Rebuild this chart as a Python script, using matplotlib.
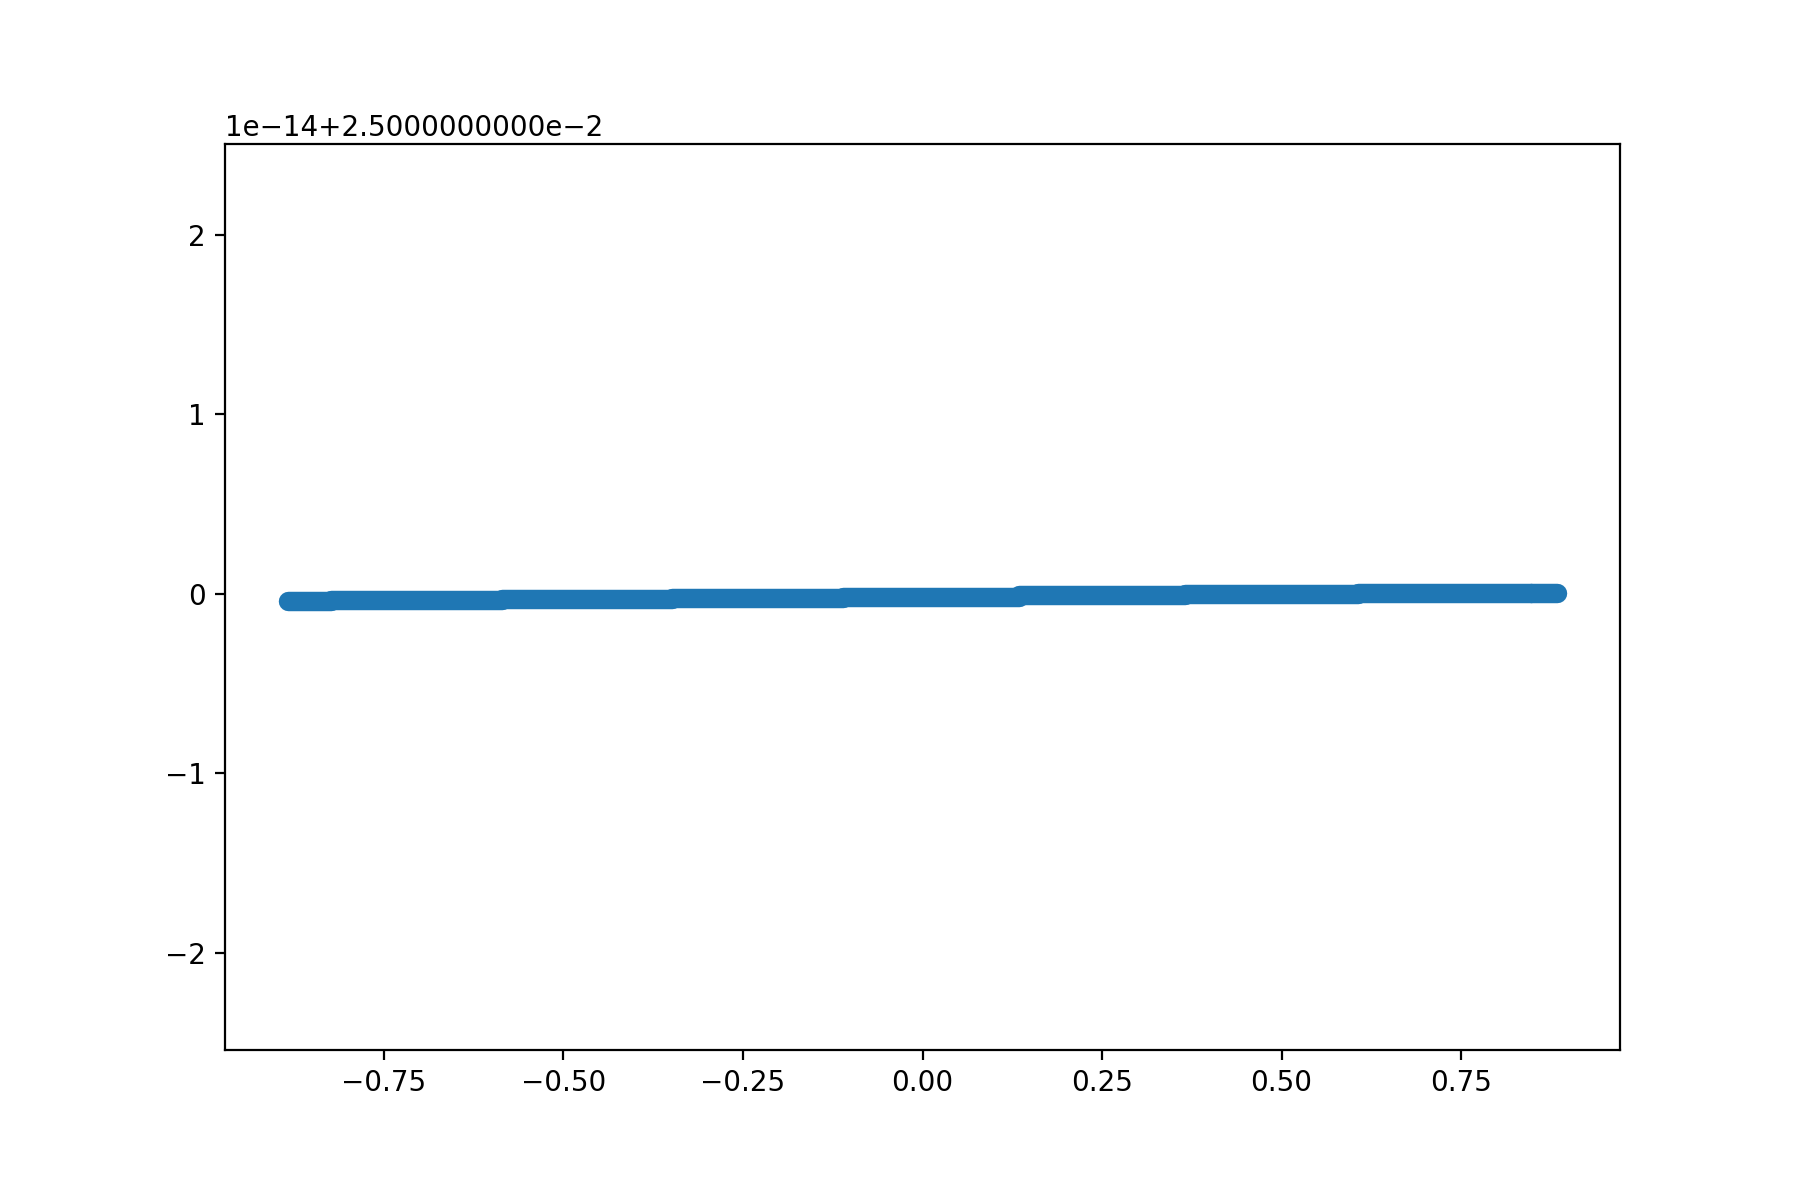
import numpy as np
import matplotlib
matplotlib.use('Agg')
import matplotlib.pyplot as plt

# Data: the points sit on a flat run of steps just around 0.025.
# Each step is one y level between two x breakpoints.
base = 0.025
x_edges = [-0.883, -0.824, -0.586, -0.349, -0.111, 0.135, 0.366, 0.606, 0.848, 0.883]
y_levels = [-0.041, -0.035, -0.029, -0.022, -0.015, -0.008, -0.002, 0.002, 0.006]  # in units of 1e-14
y_lims = [-2.542, 2.506]  # in units of 1e-14

color = '#1f77b4'

fig, ax = plt.subplots(figsize=(9, 6), dpi=200)
fig.subplots_adjust(left=0.125, right=0.9, bottom=0.125, top=0.88)

# Dense scatter markers (s=36, edge 1pt) look like a thick round-capped band.
for i, lev in enumerate(y_levels):
    y = base + lev * 1e-14
    ax.plot([x_edges[i], x_edges[i + 1]], [y, y], color=color,
            linewidth=7, solid_capstyle='round')

ax.set_ylim(base + y_lims[0] * 1e-14, base + y_lims[1] * 1e-14)


# Older matplotlib wrote the offset with all ten decimals.
def offset_data(value):
    e = int(np.floor(np.log10(abs(value))))
    return ('%.10fe%d' % (value / 10.0**e, e)).replace('-', '\u2212')


ax.yaxis.get_major_formatter().format_data = offset_data

fig.savefig('out.png', dpi=200)
